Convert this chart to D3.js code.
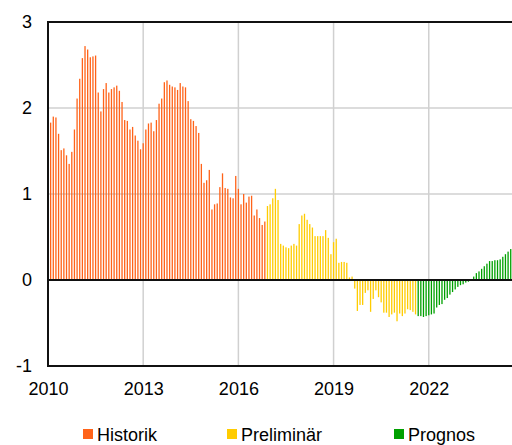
<!DOCTYPE html>
<meta charset="utf-8">
<script src="https://d3js.org/d3.v7.min.js"></script>
<style>
  body { margin: 0; background: #fff; }
  text { font-family: "Liberation Sans", Arial, sans-serif; }
</style>
<div id="chart"></div>
<script>
  // monthly values, starting jan 2010
  var historik = [
    1.83, 1.90, 1.89, 1.70, 1.51, 1.53, 1.45, 1.35, 1.49, 1.75,
    2.11, 2.34, 2.58, 2.72, 2.68, 2.59, 2.60, 2.61, 2.18, 1.96,
    2.22, 2.29, 2.18, 2.22, 2.24, 2.26, 2.20, 2.07, 1.86, 1.85,
    1.75, 1.78, 1.68, 1.62, 1.52, 1.59, 1.75, 1.82, 1.83, 1.73,
    1.86, 2.05, 2.11, 2.30, 2.32, 2.27, 2.25, 2.24, 2.21, 2.29,
    2.25, 2.24, 2.08, 1.87, 1.85, 1.79, 1.71, 1.35, 1.13, 1.16,
    1.28, 0.82, 0.88, 0.89, 1.08, 1.24, 1.07, 1.06, 0.96, 0.95,
    1.21, 1.06, 0.88, 1.00, 0.90, 0.97, 0.98, 0.75, 0.82, 0.72,
    0.64, 0.68
  ];
  var preliminar = [
    0.86, 0.88, 0.95, 1.06, 0.93, 0.42, 0.40, 0.38,
    0.37, 0.40, 0.42, 0.40, 0.65, 0.75, 0.77, 0.70, 0.65, 0.61,
    0.51, 0.51, 0.51, 0.51, 0.58, 0.49, 0.30, 0.44, 0.48, 0.20,
    0.21, 0.21, 0.20, 0.03, 0.04, -0.10, -0.36, -0.29, -0.29, -0.15,
    -0.12, -0.37, -0.22, -0.12, -0.20, -0.26, -0.38, -0.38, -0.43, -0.40,
    -0.38, -0.48, -0.39, -0.42, -0.39, -0.34, -0.35, -0.37, -0.40
  ];
  var prognos = [
    -0.42, -0.42, -0.43, -0.42, -0.41, -0.40, -0.39, -0.32, -0.29, -0.28,
    -0.23, -0.21, -0.17, -0.14, -0.11, -0.08, -0.06, -0.05, -0.03, -0.02,
    0.00, 0.04, 0.08, 0.10, 0.13, 0.16, 0.19, 0.22, 0.22, 0.23,
    0.23, 0.24, 0.27, 0.30, 0.33, 0.36
  ];
  var series = ["Historik", "Preliminär", "Prognos"];
  var colors = ["#ff6319", "#ffcc00", "#00a000"];
  var yTicks = [-1, 0, 1, 2, 3];
  var xTicks = [2010, 2013, 2016, 2019, 2022];

  var W = 512, H = 445;
  var margin = {left: 48, top: 22, bottom: 366};

  var svg = d3.select("#chart").append("svg")
    .attr("width", W).attr("height", H);

  var x = d3.scaleLinear().domain([2010, 2025]).range([margin.left, margin.left + 15 * 31.73]);
  var y = d3.scaleLinear().domain([-1, 3]).range([margin.bottom, margin.top]);

  // build one table of bars
  var bars = [];
  [historik, preliminar, prognos].forEach(function(arr, s) {
    arr.forEach(function(v) {
      bars.push({ i: bars.length, v: v, s: s });
    });
  });

  // gridlines
  svg.append("g").selectAll("line")
    .data([1, 2])
    .enter().append("line")
      .attr("x1", margin.left).attr("x2", W)
      .attr("y1", function(d) { return y(d); })
      .attr("y2", function(d) { return y(d); })
      .attr("stroke", "#d0d0d0").attr("stroke-width", 1.5);
  svg.append("g").selectAll("line")
    .data(xTicks.slice(1))
    .enter().append("line")
      .attr("x1", function(d) { return x(d); })
      .attr("x2", function(d) { return x(d); })
      .attr("y1", margin.top).attr("y2", margin.bottom)
      .attr("stroke", "#d0d0d0").attr("stroke-width", 1.5);

  // bars, each month drawn at its end
  svg.append("g").selectAll("rect")
    .data(bars)
    .enter().append("rect")
      .attr("x", function(d) { return x(2010 + (d.i + 1) / 12) - 0.65; })
      .attr("width", 1.3)
      .attr("y", function(d) { return y(Math.max(0, d.v)); })
      .attr("height", function(d) { return Math.abs(y(d.v) - y(0)); })
      .attr("fill", function(d) { return colors[d.s]; });

  // frame and zero line
  [0, 3, -1].forEach(function(v) {
    svg.append("line").attr("x1", margin.left).attr("x2", W)
      .attr("y1", y(v)).attr("y2", y(v))
      .attr("stroke", "#111").attr("stroke-width", 2);
  });
  svg.append("line").attr("x1", margin.left).attr("x2", margin.left)
    .attr("y1", margin.top - 1).attr("y2", margin.bottom + 1)
    .attr("stroke", "#111").attr("stroke-width", 2);

  // axes (labels only)
  var ax = svg.append("g")
    .attr("transform", "translate(0," + margin.bottom + ")")
    .call(d3.axisBottom(x).tickValues(xTicks).tickFormat(function(d) { return String(d); })
      .tickSize(0).tickPadding(16));
  var ay = svg.append("g")
    .attr("transform", "translate(" + (margin.left - 16) + ",0)")
    .call(d3.axisLeft(y).tickValues(yTicks).tickFormat(function(d) { return String(d); })
      .tickSize(0).tickPadding(0));
  [ax, ay].forEach(function(g) {
    g.select(".domain").remove();
    g.selectAll("text").attr("fill", "#000").style("font-size", "18px")
      .style("font-family", "'Liberation Sans', Arial, sans-serif");
  });

  // legend
  var legX = [83, 227, 394];
  var leg = svg.append("g").selectAll("g")
    .data(series)
    .enter().append("g")
      .attr("transform", function(d, i) { return "translate(" + legX[i] + ",429)"; });
  leg.append("rect").attr("width", 10).attr("height", 10)
    .attr("fill", function(d, i) { return colors[i]; });
  leg.append("text").attr("x", 14).attr("y", 12)
    .style("font-size", "18px").attr("fill", "#000")
    .text(function(d) { return d; });
</script>
